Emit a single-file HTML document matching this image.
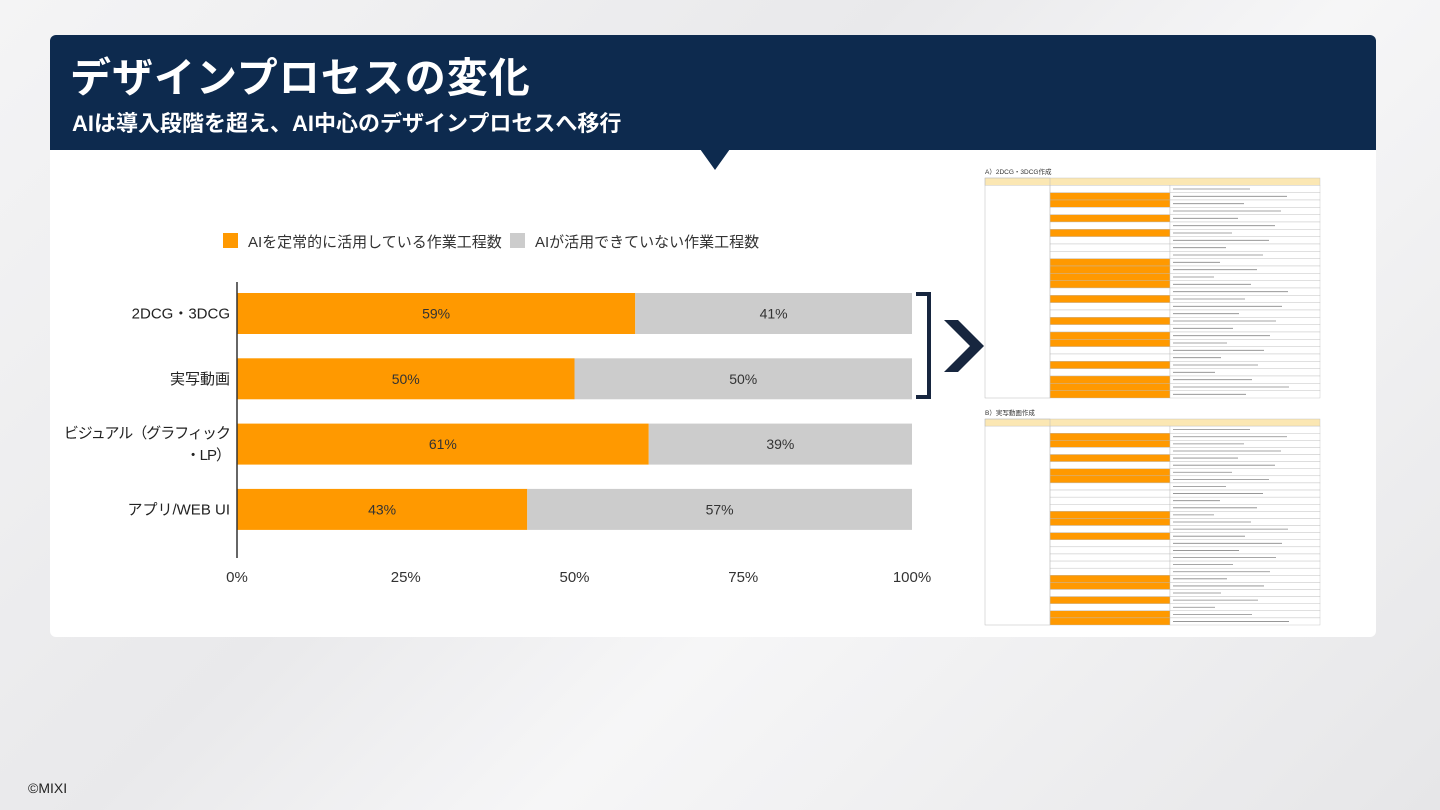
<!DOCTYPE html>
<html><head><meta charset="utf-8">
<style>
*{margin:0;padding:0;box-sizing:border-box}
body{width:1440px;height:810px;overflow:hidden;position:relative;font-family:"Liberation Sans","Noto Sans CJK JP",sans-serif;background:linear-gradient(135deg,#f4f4f5 0%,#e9e9eb 40%,#f6f6f7 60%,#e6e6e8 100%)}
.hdr{position:absolute;left:50px;top:35px;width:1326px;height:115px;background:#0d2a4e;border-radius:6px 6px 0 0}
.card{position:absolute;left:50px;top:150px;width:1326px;height:487px;background:#fff;border-radius:0 0 6px 6px}
.t1{position:absolute;left:70px;top:44px;color:#fff;font-size:41px;font-weight:bold;letter-spacing:1px}
.t2{position:absolute;left:72px;top:106px;color:#fff;font-size:22px;font-weight:bold}
.copy{position:absolute;left:28px;top:780px;font-size:14px;color:#222}
</style></head><body>
<div class="hdr"></div>
<div class="t1">デザインプロセスの変化</div>
<div class="t2">AIは導入段階を超え、AI中心のデザインプロセスへ移行</div>
<div class="card"></div>
<svg width="1440" height="810" style="position:absolute;left:0;top:0">
<polygon points="700,149 730,149 715,170" fill="#0d2a4e"/>
<g id="chart"></g>
<path d="M916,294 H929 V397 H916" fill="none" stroke="#17263f" stroke-width="4"/>
<polygon points="944,320 958,320 984,346 958,372 944,372 970,346" fill="#17263f"/>
<g id="tables"></g>
</svg>
<div class="copy">©MIXI</div>
<script>
const categories=["2DCG・3DCG","実写動画","ビジュアル（グラフィック\n・LP）","アプリ/WEB UI"];
const aiUsed=[59,50,61,43];
const aiNotUsed=[41,50,39,57];
const tickLabels=["0%","25%","50%","75%","100%"];
const tickValues=[0,25,50,75,100];
const NS="http://www.w3.org/2000/svg";
const g=document.getElementById('chart');
function el(t,a,p){const e=document.createElementNS(NS,t);for(const k in a)e.setAttribute(k,a[k]);(p||g).appendChild(e);return e;}
const x0=237,x1=912;
const xs=v=>x0+(x1-x0)*v/100;
const yTop=293,step=65.3,bh=41;
const ys=i=>yTop+i*step;
let r=el('rect',{x:223,y:233,width:15,height:15,fill:'#ff9900'});

let t=el('text',{x:248,y:247,'font-size':15,fill:'#333'});t.textContent='AIを定常的に活用している作業工程数';

r=el('rect',{x:510,y:233,width:15,height:15,fill:'#cccccc'});

t=el('text',{x:535,y:247,'font-size':15,fill:'#333'});t.textContent='AIが活用できていない作業工程数';

categories.forEach((c,i)=>{
  const y=ys(i);
  let b=el('rect',{x:xs(0),y:y,width:xs(aiUsed[i])-xs(0),height:bh,fill:'#ff9900'});
  
  let b2=el('rect',{x:xs(aiUsed[i]),y:y,width:xs(aiUsed[i]+aiNotUsed[i])-xs(aiUsed[i]),height:bh,fill:'#cccccc'});
  
  let l1=el('text',{x:(xs(0)+xs(aiUsed[i]))/2,y:y+bh/2+5,'font-size':14,fill:'#333','text-anchor':'middle'});l1.textContent=aiUsed[i]+'%';
  
  let l2=el('text',{x:(xs(aiUsed[i])+xs(aiUsed[i]+aiNotUsed[i]))/2,y:y+bh/2+5,'font-size':14,fill:'#333','text-anchor':'middle'});l2.textContent=aiNotUsed[i]+'%';
  
  const lines=c.split('\n');
  lines.forEach((ln,j)=>{
    let ct=el('text',{x:230,y:y+bh/2+5+(j-(lines.length-1)/2)*22,'font-size':15,fill:'#222','text-anchor':'end','letter-spacing':lines.length>1?-1:0});ct.textContent=ln;
    
  });
});
let ax=el('line',{x1:x0,y1:282,x2:x0,y2:558,stroke:'#333','stroke-width':1.5});

tickValues.forEach((v,i)=>{
  let tt=el('text',{x:xs(v),y:582,'font-size':15,fill:'#333','text-anchor':'middle'});tt.textContent=tickLabels[i];
  
});
const tg=document.getElementById('tables');
const patA="0011010100011110100101100101111010011";
const patB="0011010110000110100000110101100111000";
function table(top,h,n,pat,title){
  let tt=el('text',{x:985,y:top-4,'font-size':6.5,fill:'#333'},tg);tt.textContent=title;
  
  let hdr=el('rect',{x:985,y:top,width:335,height:h/n,fill:'#fbe7b3',stroke:'#bbb','stroke-width':0.4},tg);
  
  for(let i=1;i<n;i++){
    const y=top+i*h/n;const o=pat[i%pat.length]==='1';
    let row=el('rect',{x:1050,y:y,width:120,height:h/n,fill:o?'#ff9900':'#fff',stroke:'#bbb','stroke-width':0.4},tg);
    
    let rc=el('rect',{x:1170,y:y,width:150,height:h/n,fill:'#fff',stroke:'#bbb','stroke-width':0.4},tg);
    
    el('line',{x1:1173,y1:y+h/n/2,x2:1173+40+((i*37)%80),y2:y+h/n/2,stroke:'#888','stroke-width':0.8},tg);
  }
  let c=el('rect',{x:985,y:top,width:65,height:h,fill:'none',stroke:'#bbb','stroke-width':0.5},tg);
  
}
table(178,220,30,patA,'A）2DCG・3DCG作成');
table(419,206,29,patB,'B）実写動画作成');
</script>
</body></html>
